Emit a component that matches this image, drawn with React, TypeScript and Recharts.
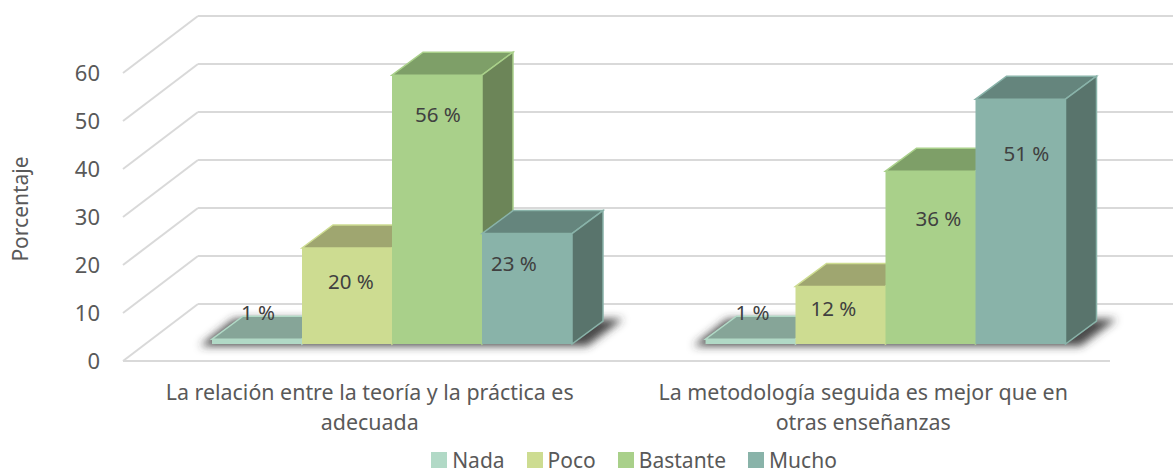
import React from 'react';
import { BarChart, Bar, XAxis, YAxis, CartesianGrid, Legend, LabelList } from 'recharts';

const categoryLines = [
  ['La relación entre la teoría y la práctica es', 'adecuada'],
  ['La metodología seguida es mejor que en', 'otras enseñanzas'],
];
const categories = categoryLines.map((l) => l.join(' '));
const nada = [1, 1];
const poco = [20, 12];
const bastante = [56, 36];
const mucho = [23, 51];
const yTicks = [0, 10, 20, 30, 40, 50, 60];

const data = categories.map((category, i) => ({
  category,
  Nada: nada[i],
  Poco: poco[i],
  Bastante: bastante[i],
  Mucho: mucho[i],
}));

const FONT = '"Noto Sans", sans-serif';
const TEXT = '#595959';
const DX3 = 31;
const DY3 = -23;
const WALL_X = 75;
const WALL_Y = -57;
const SHIFT_X = 22;
const SHIFT_Y = -17;

const shades: Record<string, { top: string; side: string }> = {
  Nada: { top: '#86a598', side: '#86a598' },
  Poco: { top: '#9fa670', side: '#8a9660' },
  Bastante: { top: '#7e9f68', side: '#6c8558' },
  Mucho: { top: '#65857d', side: '#59746c' },
};

// label nudges (dx, dy from top of the bar) per category
const labelNudge: Record<string, [number, number][]> = {
  Nada: [[1, -27], [2, -27]],
  Poco: [[4, 33], [-7, 22]],
  Bastante: [[1, 39], [8, 47]],
  Mucho: [[-13, 29], [6, 54]],
};

const Bar3D = (name: string) => (props: any) => {
  const { x, y, width, height, fill } = props;
  const X = x + SHIFT_X;
  const Y = y + SHIFT_Y;
  const s = shades[name];
  const base = Y + height;
  return (
    <g>
      {name === 'Nada' && (
        <polygon
          points={`${X - 12},${base + 2} ${X + 4 * width + 15},${base + 2} ${X + 4 * width + 51},${base - 25} ${X + 22},${base - 25}`}
          fill="#333333"
          fillOpacity={0.9}
          filter="url(#floorShadow)"
        />
      )}
      <polygon
        points={`${X},${Y} ${X + DX3},${Y + DY3} ${X + width + DX3},${Y + DY3} ${X + width},${Y}`}
        fill={s.top}
        stroke={fill}
        strokeWidth={1.5}
      />
      <polygon
        points={`${X + width},${Y} ${X + width + DX3},${Y + DY3} ${X + width + DX3},${base + DY3} ${X + width},${base}`}
        fill={s.side}
        stroke={fill}
        strokeWidth={1.5}
      />
      <rect x={X} y={Y} width={width} height={height} fill={fill} />
    </g>
  );
};

const BarLabel = (name: string) => (props: any) => {
  const { x, y, width, value, index } = props;
  const [dx, dy] = labelNudge[name][index];
  return (
    <text
      x={x + SHIFT_X + width / 2 + dx}
      y={y + SHIFT_Y + dy}
      textAnchor="middle"
      dominantBaseline="central"
      fontFamily={FONT}
      fontSize={20.5}
      fill="#404040"
    >
      {`${value} %`}
    </text>
  );
};

const gridLine = (props: any) => {
  const { x1, x2, y1, y2, index } = props;
  const isFloor = Math.abs(y1 - 361) < 1;
  return (
    <g key={`grid-${index}`} stroke="#d9d9d9" strokeWidth={2} fill="none">
      <line x1={x1} y1={y1} x2={x1 + WALL_X} y2={y1 + WALL_Y} />
      <line x1={x1 + WALL_X} y1={y1 + WALL_Y} x2={x2 + WALL_X} y2={y2 + WALL_Y} />
      {isFloor && <line x1={x1} y1={y1} x2={x2} y2={y2} />}
    </g>
  );
};

const CategoryTick = (props: any) => {
  const { x, payload, index } = props;
  const lines = categoryLines[index] ?? [payload.value];
  return (
    <text textAnchor="middle" fontFamily={FONT} fontSize={21.4} fill={TEXT}>
      {lines.map((line: string, i: number) => (
        <tspan key={i} x={x} y={400 + i * 30}>
          {line}
        </tspan>
      ))}
    </text>
  );
};

const LegendContent = (props: any) => {
  const items = props.payload ?? [];
  return (
    <div style={{ display: 'flex', justifyContent: 'center', gap: 22, fontFamily: FONT, fontSize: 21, color: TEXT, lineHeight: '18px', paddingTop: 12, paddingLeft: 95 }}>
      {items.map((it: any) => (
        <span key={it.value} style={{ display: 'inline-flex', alignItems: 'center', gap: 5 }}>
          <span style={{ width: 16, height: 16, background: it.color, display: 'inline-block' }} />
          {it.value}
        </span>
      ))}
    </div>
  );
};

const series = [
  { name: 'Nada', color: '#b1d9c6' },
  { name: 'Poco', color: '#cddc91' },
  { name: 'Bastante', color: '#a9d08a' },
  { name: 'Mucho', color: '#89b3a9' },
];

export default function App() {
  return (
    <div style={{ position: 'absolute', left: 0, top: 0, width: 1173, height: 469, overflow: 'hidden' }}>
      <BarChart
        width={1173}
        height={469}
        data={data}
        barSize={90}
        barGap={0}
        margin={{ top: 73, right: 63, bottom: 0, left: 0 }}
        style={{ overflow: 'hidden' }}
      >
        <defs>
          <filter id="floorShadow" x="-20%" y="-60%" width="140%" height="220%">
            <feGaussianBlur stdDeviation="4" />
          </filter>
        </defs>
        <CartesianGrid vertical={false} horizontal={gridLine} />
        <XAxis
          dataKey="category"
          axisLine={false}
          tickLine={false}
          height={78}
          interval={0}
          tick={<CategoryTick />}
        />
        <YAxis
          width={123}
          domain={[0, 60]}
          ticks={yTicks}
          axisLine={false}
          tickLine={false}
          tickMargin={17}
          tick={{ fontFamily: FONT, fontSize: 22, fill: TEXT }}
          label={{
            value: 'Porcentaje',
            angle: -90,
            position: 'insideLeft',
            offset: 0,
            dx: 21,
            dy: -8,
            style: { fontFamily: FONT, fontSize: 21, fill: TEXT, textAnchor: 'middle' },
          }}
        />
        <Legend
          height={30}
          verticalAlign="bottom"
          itemSorter={null}
          wrapperStyle={{ left: 0, width: 1173 }}
          content={<LegendContent />}
        />
        {series.map((s) => (
          <Bar key={s.name} dataKey={s.name} fill={s.color} isAnimationActive={false} shape={Bar3D(s.name)}>
            <LabelList dataKey={s.name} content={BarLabel(s.name)} />
          </Bar>
        ))}
      </BarChart>
    </div>
  );
}
